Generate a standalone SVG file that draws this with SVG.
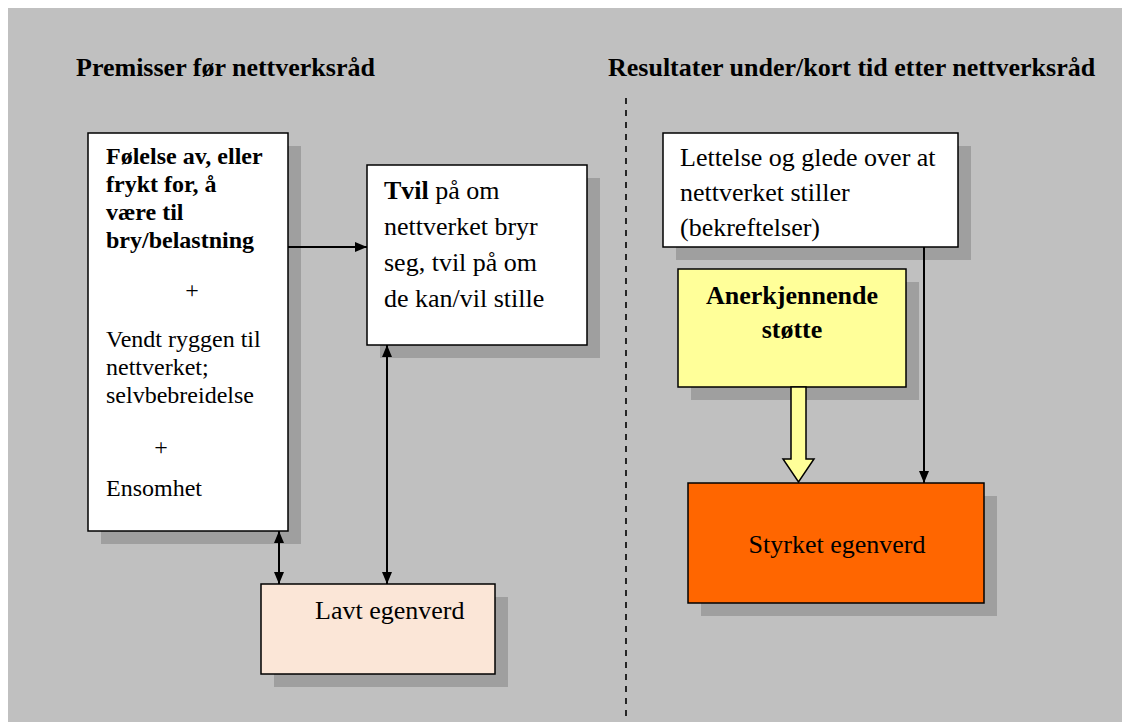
<svg xmlns="http://www.w3.org/2000/svg" width="1122" height="722" viewBox="0 0 1122 722">
  <style>
    text { font-family: "Liberation Serif", "Times New Roman", serif; fill: #000; }
    .h { font-size: 26px; font-weight: bold; }
    .t24 { font-size: 24px; }
    .t26 { font-size: 26px; }
    .b { font-weight: bold; }
    .box { stroke: #000; stroke-width: 1.5; }
    .shadow { fill: #9F9F9F; }
    .link { stroke: #000; stroke-width: 2; fill: none; }
  </style>
  <defs>
    <marker id="arrow" viewBox="0 0 12 10" refX="12" refY="5" markerWidth="12" markerHeight="10" markerUnits="userSpaceOnUse" orient="auto-start-reverse">
      <path d="M0,0 L12,5 L0,10 Z" fill="#000"/>
    </marker>
  </defs>

  <!-- page background -->
  <rect x="0" y="0" width="1122" height="722" fill="#FFFFFF"/>
  <rect x="8" y="8" width="1114" height="714" fill="#C0C0C0"/>

  <!-- section headings and divider -->
  <text class="h" x="76" y="76">Premisser før nettverksråd</text>
  <text class="h" x="608" y="76">Resultater under/kort tid etter nettverksråd</text>
  <line x1="626" y1="98" x2="626" y2="722" stroke="#000" stroke-width="1.6" stroke-dasharray="6,6"/>

  <!-- left column -->
  <g id="node-byrde">
    <rect class="shadow" x="101" y="146" width="200" height="398"/>
    <rect class="box" x="88" y="133" width="200" height="398" fill="#FFFFFF"/>
    <text class="t24 b" x="106" y="164">Følelse av, eller</text>
    <text class="t24 b" x="106" y="192">frykt for, å</text>
    <text class="t24 b" x="106" y="220">være til</text>
    <text class="t24 b" x="106" y="248">bry/belastning</text>
    <text class="t24" x="192" y="298" text-anchor="middle">+</text>
    <text class="t24" x="106" y="347">Vendt ryggen til</text>
    <text class="t24" x="106" y="375">nettverket;</text>
    <text class="t24" x="106" y="403">selvbebreidelse</text>
    <text class="t24" x="161" y="455" text-anchor="middle">+</text>
    <text class="t24" x="106" y="496">Ensomhet</text>
  </g>

  <g id="node-tvil">
    <rect class="shadow" x="380" y="178" width="220" height="180"/>
    <rect class="box" x="367" y="165" width="220" height="180" fill="#FFFFFF"/>
    <text class="t26" x="384" y="199"><tspan class="b">Tvil</tspan> på om</text>
    <text class="t26" x="384" y="235">nettverket bryr</text>
    <text class="t26" x="384" y="271">seg, tvil på om</text>
    <text class="t26" x="384" y="307">de kan/vil stille</text>
  </g>

  <g id="node-lavt">
    <rect class="shadow" x="274" y="597" width="234" height="90"/>
    <rect class="box" x="261" y="584" width="234" height="90" fill="#FBE6D7"/>
    <text class="t26" x="315" y="619">Lavt egenverd</text>
  </g>

  <!-- right column -->
  <g id="node-lettelse">
    <rect class="shadow" x="676" y="146" width="295" height="114"/>
    <rect class="box" x="663" y="133" width="295" height="114" fill="#FFFFFF"/>
    <text class="t26" x="680" y="166">Lettelse og glede over at</text>
    <text class="t26" x="680" y="201">nettverket stiller</text>
    <text class="t26" x="680" y="236">(bekreftelser)</text>
  </g>

  <g id="node-stotte">
    <rect class="shadow" x="691" y="282" width="228" height="118"/>
    <rect class="box" x="678" y="269" width="228" height="118" fill="#FFFF99"/>
    <text class="t26 b" x="792" y="304" text-anchor="middle">Anerkjennende</text>
    <text class="t26 b" x="792" y="338" text-anchor="middle">støtte</text>
  </g>

  <g id="node-styrket">
    <rect class="shadow" x="701" y="496" width="296" height="120"/>
    <rect class="box" x="688" y="483" width="296" height="120" fill="#FF6600"/>
    <text class="t26" x="837" y="553" text-anchor="middle">Styrket egenverd</text>
  </g>

  <!-- connectors -->
  <g id="connectors">
    <line class="link" x1="288" y1="247" x2="367" y2="247" marker-end="url(#arrow)"/>
    <line class="link" x1="279" y1="531" x2="279" y2="584" marker-start="url(#arrow)" marker-end="url(#arrow)"/>
    <line class="link" x1="387" y1="345" x2="387" y2="584" marker-start="url(#arrow)" marker-end="url(#arrow)"/>
    <line class="link" x1="924" y1="247" x2="924" y2="483" marker-end="url(#arrow)"/>
    <path d="M791,387 L806,387 L806,459 L814,459 L798.5,482 L783,459 L791,459 Z" fill="#FFFF99" stroke="#000" stroke-width="1.5" stroke-linejoin="miter"/>
  </g>
</svg>
